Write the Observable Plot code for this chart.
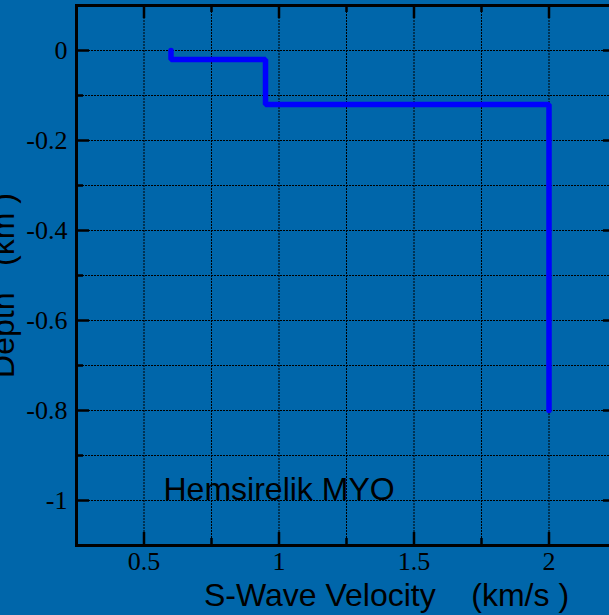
<!DOCTYPE html>
<html><head><meta charset="utf-8">
<script src="https://cdn.jsdelivr.net/npm/d3@7"></script>
<script src="https://cdn.jsdelivr.net/npm/@observablehq/plot@0.6"></script>
<style>
html,body{margin:0;padding:0;background:#0066aa;overflow:hidden;}
</style></head><body><div id="chart"></div>
<script>
// Layer model (S-wave velocity profile)
const layerVs = [0.6, 0.95, 2.0];
const layerTop = [0, -0.02, -0.12];
const layerBottom = [-0.02, -0.12, -0.8];

// Axis ticks and labels
const xMajorTicks = [0.5, 1, 1.5, 2];
const xMinorTicks = [0.75, 1.25, 1.75];
const xTickLabels = ["0.5", "1", "1.5", "2"];
const yMajorTicks = [0, -0.2, -0.4, -0.6, -0.8, -1];
const yMinorTicks = [-0.1, -0.3, -0.5, -0.7, -0.9];
const yTickLabels = ["0", "-0.2", "-0.4", "-0.6", "-0.8", "-1"];
const xTitle = "S-Wave Velocity\u00a0\u00a0\u00a0\u00a0(km/s )";
const yTitle = "Depth\u00a0\u00a0\u00a0(km )";
const annotation = "Hemsirelik MYO";

const profile = [];
layerVs.forEach((v, i) => {
  profile.push({vs: v, depth: layerTop[i]});
  profile.push({vs: v, depth: layerBottom[i]});
});
const xGrid = [...xMajorTicks, ...xMinorTicks];
const yGrid = [...yMajorTicks, ...yMinorTicks];

const W = 620, H = 615, ML = 76, MR = 4, MT = 5, MB = 70;
const xDomain = [0.25, 2.25], yDomain = [-1.1, 0.1];
const kx = (xDomain[1] - xDomain[0]) / (W - ML - MR);
const ky = (yDomain[1] - yDomain[0]) / (H - MT - MB);
const majorLen = 13, minorLen = 7;
const tickStyle = {stroke: "black", strokeWidth: 2.5};
const sans = "'Liberation Sans', Arial, sans-serif";
const serif = "'Liberation Serif', 'Times New Roman', serif";

const plot = Plot.plot({
  width: W, height: H,
  marginLeft: ML, marginRight: MR, marginTop: MT, marginBottom: MB,
  style: {background: "#0066aa", maxWidth: "none", overflow: "visible"},
  x: {domain: xDomain, axis: null},
  y: {domain: yDomain, axis: null},
  marks: [
    Plot.ruleX(xGrid, {x: d => d, stroke: "black", strokeWidth: 1, strokeDasharray: "2,1"}),
    Plot.ruleY(yGrid, {y: d => d, stroke: "black", strokeWidth: 1, strokeDasharray: "2,1"}),
    Plot.line(profile, {x: "vs", y: "depth", stroke: "#0000ff", strokeWidth: 5.5, strokeLinecap: "round", strokeLinejoin: "miter"}),
    // bottom / top ticks (inward)
    Plot.ruleX(xMajorTicks, {x: d => d, y1: yDomain[0], y2: yDomain[0] + majorLen * ky, ...tickStyle}),
    Plot.ruleX(xMinorTicks, {x: d => d, y1: yDomain[0], y2: yDomain[0] + minorLen * ky, ...tickStyle}),
    Plot.ruleX(xMajorTicks, {x: d => d, y1: yDomain[1], y2: yDomain[1] - majorLen * ky, ...tickStyle}),
    Plot.ruleX(xMinorTicks, {x: d => d, y1: yDomain[1], y2: yDomain[1] - minorLen * ky, ...tickStyle}),
    // left / right ticks (inward)
    Plot.ruleY(yMajorTicks, {y: d => d, x1: xDomain[0], x2: xDomain[0] + majorLen * kx, ...tickStyle}),
    Plot.ruleY(yMinorTicks, {y: d => d, x1: xDomain[0], x2: xDomain[0] + minorLen * kx, ...tickStyle}),
    Plot.ruleY(yMajorTicks, {y: d => d, x1: xDomain[1], x2: xDomain[1] - majorLen * kx, ...tickStyle}),
    Plot.ruleY(yMinorTicks, {y: d => d, x1: xDomain[1], x2: xDomain[1] - minorLen * kx, ...tickStyle}),
    Plot.frame({stroke: "black", strokeWidth: 3}),
    // tick labels
    Plot.text(xMajorTicks, {x: d => d, frameAnchor: "bottom", text: (d, i) => xTickLabels[i],
      textAnchor: "middle", lineAnchor: "middle", dy: 16, fontSize: 26, fontFamily: serif, fill: "black"}),
    Plot.text(yMajorTicks, {y: d => d, frameAnchor: "left", text: (d, i) => yTickLabels[i],
      textAnchor: "end", lineAnchor: "middle", dx: -9, fontSize: 26, fontFamily: serif, fill: "black"}),
    // titles
    Plot.text([xTitle], {frameAnchor: "bottom", text: d => d, dx: 40, dy: 50,
      textAnchor: "middle", lineAnchor: "middle", fontSize: 32, fontFamily: sans, fill: "black"}),
    Plot.text([yTitle], {frameAnchor: "left", text: d => d, rotate: -90, dx: -73, dy: 10,
      textAnchor: "middle", lineAnchor: "middle", fontSize: 32, fontFamily: sans, fill: "black"}),
    Plot.text([annotation], {frameAnchor: "bottom-left", text: d => d, dx: 87, dy: -56,
      textAnchor: "start", lineAnchor: "middle", fontSize: 32, fontFamily: sans, fill: "black"})
  ]
});
document.getElementById("chart").appendChild(plot);
</script>
</body></html>
